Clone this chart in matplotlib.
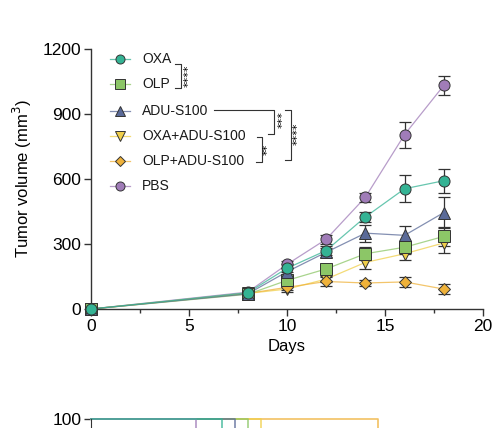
import matplotlib
matplotlib.use('Agg')
import matplotlib.pyplot as plt
from matplotlib.lines import Line2D
import numpy as np

plt.rcParams['font.family'] = ['Liberation Sans', 'DejaVu Sans']

days = [0, 8, 10, 12, 14, 16, 18]
groups = ['OXA', 'OLP', 'ADU-S100', 'OXA+ADU-S100', 'OLP+ADU-S100', 'PBS']
markers = ['o', 's', '^', 'v', 'D', 'o']
colors = ['#34b394', '#8cc667', '#5a6a98', '#f0cf4a', '#efb23a', '#a07cb8']

vol_oxa = [0, 75, 188, 270, 425, 555, 592]
vol_olp = [0, 68, 132, 185, 255, 285, 335]
vol_adu = [0, 70, 172, 262, 350, 340, 445]
vol_oxa_adu = [0, 72, 92, 138, 215, 255, 305]
vol_olp_adu = [0, 72, 100, 127, 120, 125, 92]
vol_pbs = [0, 78, 206, 322, 516, 805, 1032]

err_oxa = [0, 10, 18, 20, 25, 62, 55]
err_olp = [0, 10, 20, 25, 30, 30, 45]
err_adu = [0, 10, 15, 20, 40, 45, 70]
err_oxa_adu = [0, 10, 15, 15, 30, 30, 45]
err_olp_adu = [0, 10, 10, 20, 15, 25, 25]
err_pbs = [0, 10, 15, 20, 20, 60, 42]

volumes = [vol_oxa, vol_olp, vol_adu, vol_oxa_adu, vol_olp_adu, vol_pbs]
errors = [err_oxa, err_olp, err_adu, err_oxa_adu, err_olp_adu, err_pbs]

# survival (partially visible panel below): day of first death per group
first_death = [20, 24, 22, 26, 44, 16]
surv_after = [80, 80, 80, 80, 80, 80]

W, H = 492, 428
fig = plt.figure(figsize=(W / 100, H / 100), dpi=100)


def fx(x):
    return x / W


def fy(y):
    return 1 - y / H


ax = fig.add_axes([fx(91), fy(309), (483 - 91) / W, (309 - 49) / H])

# bottom -> top
draw_order = [5, 3, 4, 1, 2, 0]
for k, i in enumerate(draw_order):
    ax.plot(days, volumes[i], color=colors[i], lw=0.9, alpha=0.75, zorder=2, clip_on=False)
    ax.errorbar(days, volumes[i], yerr=errors[i], fmt='none', ecolor='#333333',
                elinewidth=0.9, capsize=4, capthick=0.9, zorder=3, clip_on=False)
    ms = 6.5 if markers[i] == 'D' else 8
    ax.plot(days, volumes[i], linestyle='none', marker=markers[i], ms=ms,
            mfc=colors[i], mec='#333333', mew=0.7, zorder=4 + k, clip_on=False)

ax.set_xlim(0, 20)
ax.set_ylim(0, 1200)
ax.set_xticks([0, 5, 10, 15, 20])
ax.set_xticks([2.5, 7.5, 12.5, 17.5], minor=True)
ax.set_yticks([0, 300, 600, 900, 1200])
ax.spines['top'].set_visible(False)
ax.spines['right'].set_visible(False)
for s in ['left', 'bottom']:
    ax.spines[s].set_color('#333333')
    ax.spines[s].set_linewidth(1.0)
ax.tick_params(which='major', length=5, width=1.0, color='#333333', labelsize=12.5, pad=2)
ax.tick_params(which='minor', length=3, width=1.0, color='#333333')
ax.set_xlabel('Days', fontsize=12, labelpad=4)
ax.set_ylabel('Tumor volume (mm$^3$)', fontsize=12, labelpad=6)

# legend drawn by hand
rows = [59, 84, 111, 136, 161, 186]
tf = fig.transFigure
for i, y in enumerate(rows):
    fig.add_artist(Line2D([fx(110), fx(130)], [fy(y), fy(y)], color=colors[i], lw=0.9, alpha=0.75, transform=tf))
    ms = 5 if markers[i] == 'D' else 6.5
    fig.add_artist(Line2D([fx(120)], [fy(y)], marker=markers[i], ms=ms, mfc=colors[i],
                          mec='#333333', mew=0.7, transform=tf))
    fig.text(fx(142), fy(y), groups[i], fontsize=10, va='center', ha='left', color='#1a1a1a')

bk = dict(color='#333333', lw=0.8, transform=tf)
star = dict(fontsize=8, rotation=90, ha='center', va='center', family='DejaVu Sans')
# OXA vs OLP
fig.add_artist(Line2D([fx(175), fx(181), fx(181), fx(175)], [fy(64), fy(64), fy(88), fy(88)], **bk))
fig.text(fx(189), fy(76), '****', **star)
# ADU vs OXA+ADU
fig.add_artist(Line2D([fx(214), fx(274), fx(274), fx(268)], [fy(110), fy(110), fy(134), fy(134)], **bk))
fig.text(fx(283), fy(120), '***', **star)
# OXA+ADU vs OLP+ADU
fig.add_artist(Line2D([fx(257), fx(262), fx(262), fx(256)], [fy(137), fy(137), fy(162), fy(162)], **bk))
fig.text(fx(268), fy(149), '**', **star)
# ADU vs OLP+ADU
fig.add_artist(Line2D([fx(285), fx(291), fx(291), fx(285)], [fy(110), fy(110), fy(160), fy(160)], **bk))
fig.text(fx(298), fy(134), '****', **star)

# lower survival panel, only its top edge is inside the figure
ax2 = fig.add_axes([fx(91), fy(419) - 0.4, (483 - 91) / W, 0.4])
surv_order = [4, 3, 1, 2, 5, 0]
for i in surv_order:
    ax2.step([0, first_death[i], first_death[i] + 4], [100, surv_after[i], surv_after[i]],
             where='post', color=colors[i], lw=1.2, alpha=0.8, clip_on=False)
ax2.set_xlim(0, 60)
ax2.set_ylim(0, 100)
ax2.set_yticks([100])
ax2.set_xticks([])
for s in ['top', 'right', 'bottom']:
    ax2.spines[s].set_visible(False)
ax2.spines['left'].set_color('#333333')
ax2.tick_params(length=5, width=1.0, color='#333333', labelsize=12.5, pad=2)

fig.savefig('out.png', dpi=100)
